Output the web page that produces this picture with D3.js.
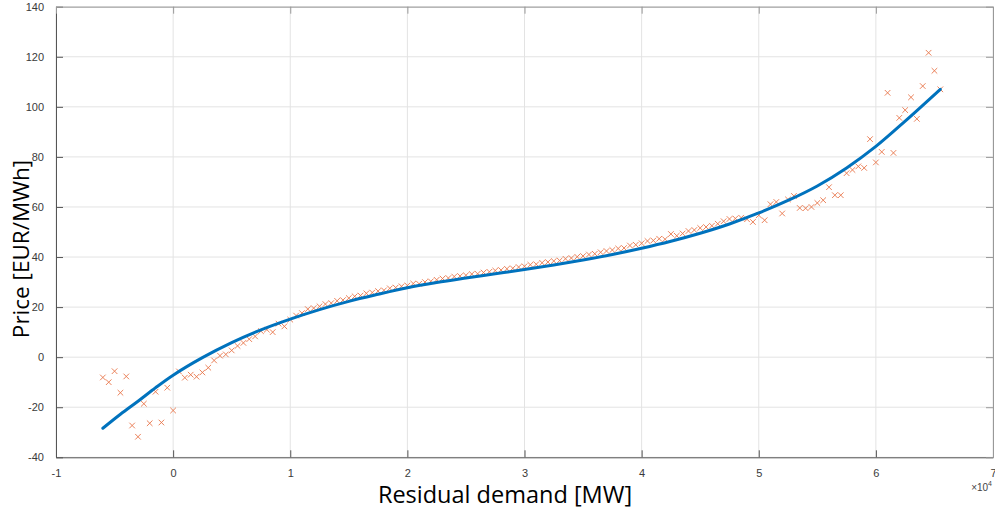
<!DOCTYPE html>
<html><head><meta charset="utf-8">
<script src="https://cdn.jsdelivr.net/npm/d3@7/dist/d3.min.js"></script>
<style>body{margin:0;background:#fff}svg{display:block}</style>
</head><body><svg id="c" width="995" height="514"></svg>
<script>
// Observed points: residual demand [MW] and price [EUR/MWh]
const demandMW = [-6000,-5500,-5000,-4500,-4000,-3500,-3000,-2500,-2000,-1500,
 -1000,-500,0,500,1000,1500,2000,2500,3000,3500,
 4000,4500,5000,5500,6000,6500,7000,7500,8000,8500,
 9000,9500,10000,10500,11000,11500,12000,12500,13000,13500,
 14000,14500,15000,15500,16000,16500,17000,17500,18000,18500,
 19000,19500,20000,20500,21000,21500,22000,22500,23000,23500,
 24000,24500,25000,25500,26000,26500,27000,27500,28000,28500,
 29000,29500,30000,30500,31000,31500,32000,32500,33000,33500,
 34000,34500,35000,35500,36000,36500,37000,37500,38000,38500,
 39000,39500,40000,40500,41000,41500,42000,42500,43000,43500,
 44000,44500,45000,45500,46000,46500,47000,47500,48000,48500,
 49000,49500,50000,50500,51000,51500,52000,52500,53000,53500,
 54000,54500,55000,55500,56000,56500,57000,57500,58000,58500,
 59000,59500,60000,60500,61000,61500,62000,62500,63000,63500,
 64000,64500,65000,65500];
const priceObs = [-8.1,-10.0,-5.6,-14.2,-7.7,-27.3,-31.8,-18.6,-26.4,-13.8,
 -26.1,-12.2,-21.3,-5.7,-8.2,-7.0,-7.8,-6.1,-4.2,-1.3,
 0.6,1.1,2.7,4.5,5.7,7.2,8.3,10.4,11.0,10.0,
 13.4,12.3,15.0,16.6,17.6,19.2,19.6,20.3,21.2,21.6,
 22.5,22.8,23.6,24.3,24.6,25.5,25.8,26.4,26.7,27.5,
 27.8,28.3,28.6,29.4,29.3,30.0,30.3,30.9,31.4,31.6,
 32.2,32.4,32.7,33.2,33.3,33.8,34.1,34.6,34.8,35.3,
 35.5,36.0,36.3,36.9,37.1,37.7,38.0,38.4,38.6,39.3,
 39.6,40.1,40.4,41.0,41.3,41.9,42.4,42.8,43.4,43.6,
 44.6,44.9,45.5,46.4,46.6,47.3,47.1,49.2,48.5,49.4,
 50.4,50.8,51.6,52.0,52.5,53.3,54.3,55.2,55.4,55.7,
 55.1,54.0,56.7,54.7,61.1,62.0,57.4,63.0,64.4,59.6,
 59.5,60.0,61.6,62.7,67.9,64.7,64.7,73.5,74.8,76.2,
 75.6,87.1,77.8,82.0,105.6,81.6,95.6,98.7,103.8,95.2,
 108.3,121.6,114.4,107.0];
// Fitted curve samples
const fitDemandMW = [-6000,-4500,-3000,-1500,0,2500,5000,7500,10000,12500,15000,17500,20000,22500,25000,27500,30000,32500,35000,37500,40000,42500,45000,47500,50000,52500,55000,57500,60000,62500,65500];
const fitPrice = [-28.4,-22.8,-17.6,-12.2,-7.2,-0.2,5.8,10.9,15.2,19.0,22.3,25.1,27.7,29.8,31.6,33.3,35.0,36.8,38.8,41.0,43.5,46.3,49.5,53.2,57.6,62.6,68.4,75.6,84.2,94.3,107.0];
const xTicks = [-1,0,1,2,3,4,5,6,7];
const yTicks = [-40,-20,0,20,40,60,80,100,120,140];

const svg = d3.select('#c');
const L = 56, R = 993, T = 6.7, B = 457.3;
const x = d3.scaleLinear().domain([-10000, 70000]).range([L, R]);
const y = d3.scaleLinear().domain([-40, 140]).range([B, T]);

// grid
const g = svg.append('g');
g.selectAll('.gx').data(xTicks).enter().append('line')
  .attr('x1', d => x(d*1e4)).attr('x2', d => x(d*1e4)).attr('y1', T).attr('y2', B)
  .attr('stroke', '#e3e3e3').attr('stroke-width', 1);
g.selectAll('.gy').data(yTicks).enter().append('line')
  .attr('y1', d => y(d)).attr('y2', d => y(d)).attr('x1', L).attr('x2', R)
  .attr('stroke', '#e3e3e3').attr('stroke-width', 1);

// axes (MATLAB style, inward ticks, box)
const fmtX = d => String(d/1e4);
const axB = d3.axisBottom(x).tickValues(xTicks.map(d => d*1e4)).tickSizeInner(-7).tickSizeOuter(0).tickPadding(12).tickFormat(fmtX);
const axT = d3.axisTop(x).tickValues(xTicks.map(d => d*1e4)).tickSizeInner(-7).tickSizeOuter(0).tickFormat('');
const axL = d3.axisLeft(y).tickValues(yTicks).tickSizeInner(-7).tickSizeOuter(0).tickPadding(12).tickFormat(d => String(d));
const axR = d3.axisRight(y).tickValues(yTicks).tickSizeInner(-7).tickSizeOuter(0).tickFormat('');
function style(sel, col){
  sel.select('.domain').attr('stroke', col).attr('stroke-width', 1);
  sel.selectAll('.tick line').attr('stroke', col);
  sel.selectAll('.tick text').attr('fill', '#3a3a3a').style('font-family', '"Liberation Sans", Arial, sans-serif').style('font-size', '11px');
}
const bx = svg.append('g').attr('transform', `translate(0,${B})`).call(axB);
style(bx, '#555');
bx.selectAll('.tick text').filter(d => d === 70000).attr('text-anchor', 'end').attr('dx', 3);
style(svg.append('g').attr('transform', `translate(${L},0)`).call(axL), '#555');
style(svg.append('g').attr('transform', `translate(0,${T})`).call(axT), '#999');
style(svg.append('g').attr('transform', `translate(${R},0)`).call(axR), '#999');

// scatter crosses
const s = 2.8;
const pts = svg.append('g').attr('stroke', '#E8754A').attr('stroke-width', 0.9).attr('fill', 'none');
pts.selectAll('path').data(demandMW.map((d,i) => [d, priceObs[i]])).enter().append('path')
  .attr('d', d => {const cx = x(d[0]), cy = y(d[1]); return `M${cx-s},${cy-s}L${cx+s},${cy+s}M${cx-s},${cy+s}L${cx+s},${cy-s}`;});

// fitted line
const line = d3.line().x(d => x(d[0])).y(d => y(d[1])).curve(d3.curveCatmullRom.alpha(0.5));
svg.append('path').datum(fitDemandMW.map((d,i) => [d, fitPrice[i]]))
  .attr('d', line).attr('fill', 'none').attr('stroke', '#0072BD').attr('stroke-width', 3).attr('stroke-linecap', 'round');

// labels
svg.append('text').attr('x', 505).attr('y', 503).attr('text-anchor', 'middle')
  .style('font-family', '"Open Sans", sans-serif').style('font-size', '23.5px').attr('fill', '#000')
  .text('Residual demand [MW]');
svg.append('text').attr('transform', 'translate(29,249) rotate(-90)').attr('text-anchor', 'middle')
  .style('font-family', '"Open Sans", sans-serif').style('font-size', '22.5px').attr('fill', '#000')
  .text('Price [EUR/MWh]');
const ex = svg.append('text').attr('x', 992).attr('y', 491).attr('text-anchor', 'end')
  .style('font-family', '"Liberation Sans", Arial, sans-serif').style('font-size', '10px').attr('fill', '#444');
ex.append('tspan').text('×10');
ex.append('tspan').attr('dy', -5).style('font-size', '7px').text('4');
</script></body></html>
